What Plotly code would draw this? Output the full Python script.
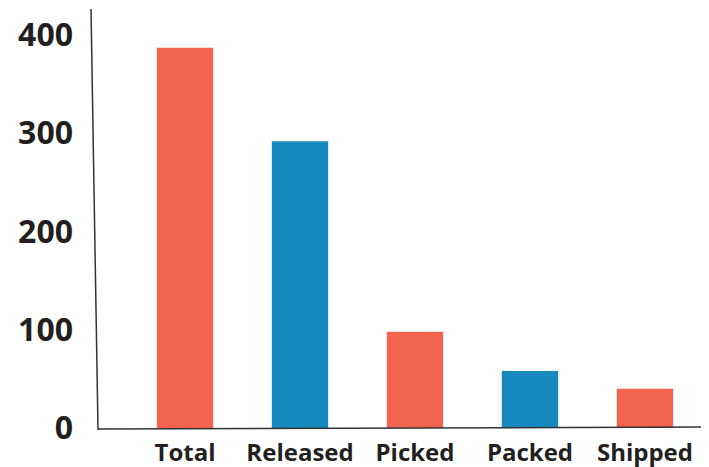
import plotly.graph_objects as go

categories = ["Total", "Released", "Picked", "Packed", "Shipped"]
values = [387, 292, 98, 58, 40]
bar_colors = ["#F26450", "#1689BF", "#F26450", "#1689BF", "#F26450"]
y_tick_vals = [0, 100, 200, 300, 400]
y_tick_text = ["0", "100", "200", "300", "400"]

fig = go.Figure(
    go.Bar(
        x=list(range(len(categories))),
        y=values,
        marker=dict(color=bar_colors, line=dict(width=0)),
        width=0.49,
        hoverinfo="skip",
    )
)

fig.update_layout(
    width=701,
    height=459,
    margin=dict(l=87, r=0, t=1, b=39, autoexpand=False),
    paper_bgcolor="white",
    plot_bgcolor="white",
    showlegend=False,
    font=dict(family="Open Sans", color="#231F20"),
    xaxis=dict(
        range=[-0.783, 4.557],
        tickvals=list(range(len(categories))),
        ticktext=categories,
        tickfont=dict(size=24, family="Open Sans", weight="bold", color="#231F20"),
        showgrid=False,
        zeroline=False,
        showline=False,
        ticks="",
        ticklabelstandoff=8,
        automargin=False,
    ),
    yaxis=dict(
        range=[0, 426.5],
        tickvals=y_tick_vals,
        ticktext=y_tick_text,
        tickfont=dict(size=32, family="Open Sans", weight="bold", color="#231F20"),
        showgrid=False,
        zeroline=False,
        showline=False,
        ticks="",
        ticklabelstandoff=21,
        automargin=False,
    ),
    shapes=[
        dict(type="line", xref="paper", yref="paper",
             x0=0.0049, y0=-0.0048, x1=-0.0065, y1=1.0,
             line=dict(color="#333333", width=1.5)),
        dict(type="line", xref="paper", yref="paper",
             x0=0.0049, y0=-0.0024, x1=1.0, y1=0.0024,
             line=dict(color="#333333", width=1.5)),
    ],
)

fig.write_html("out.html")
